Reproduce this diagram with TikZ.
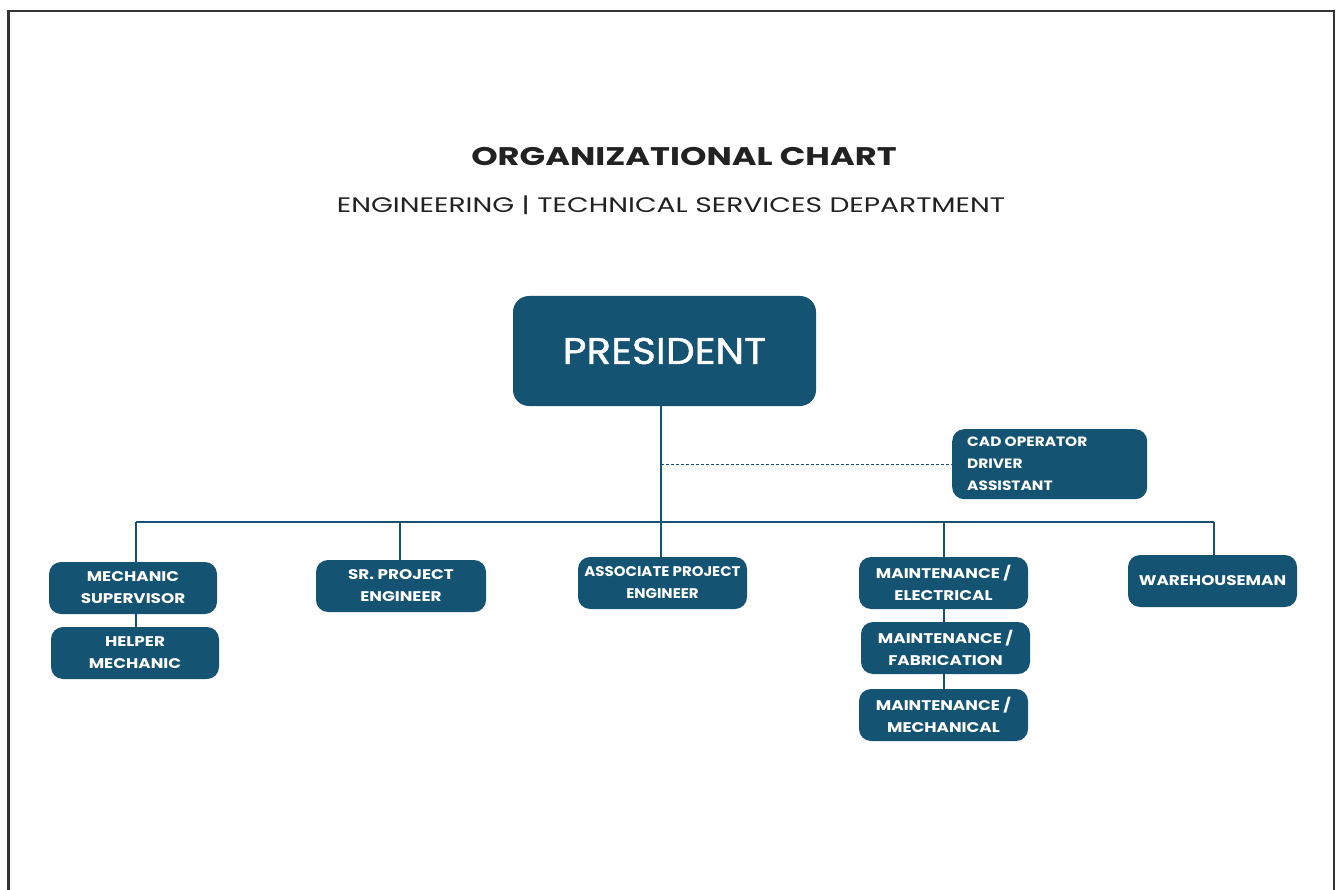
\documentclass[tikz,border=0pt]{standalone}
\usepackage{fontspec}
\setmainfont{Poppins}
\definecolor{navy}{HTML}{155373}
\definecolor{frame}{HTML}{333333}
\definecolor{ttl}{HTML}{222222}
\tikzset{
  box/.style={fill=navy, rounded corners=12pt, inner sep=0pt, text=white, font=\bfseries\fontsize{14}{22}\selectfont\addfontfeature{FakeStretch=1.2}, align=center},
  link/.style={draw=navy, line width=2pt},
  dlink/.style={draw=navy, line width=1pt, dash pattern=on 3pt off 2pt},
}
\begin{document}
\begin{tikzpicture}[x=1pt,y=-1pt]
\useasboundingbox (0,0) rectangle (1338,890);
\begin{scope}
\clip (0,0) rectangle (1338,890);
\draw[frame, line width=2.5pt] (8.5,11) rectangle (1334,910);
\end{scope}
\node[font=\bfseries\fontsize{25.5}{30}\selectfont\addfontfeature{FakeStretch=1.32}, text=ttl] (title) at (684,157) {ORGANIZATIONAL CHART};
\node[font=\fontsize{21}{26}\selectfont\addfontfeature{FakeStretch=1.34}, text=ttl] (sub) at (671,205) {ENGINEERING | TECHNICAL SERVICES DEPARTMENT};
% boxes
\node[box, minimum width=303pt, minimum height=110pt, rounded corners=16pt, font=\fontsize{37}{40}\selectfont\addfontfeature{FakeStretch=1.1,FakeBold=1.2}] (pres) at (664.5,351) {PRESIDENT};
\node[box, minimum width=195pt, minimum height=70pt, anchor=north west] (cad) at (952,429) {};
\node[font=\bfseries\fontsize{13.5}{22}\selectfont\addfontfeature{FakeStretch=1.14}, text=white, align=left, anchor=north west, inner sep=0pt] (cadtxt) at (967,437) {CAD OPERATOR\\DRIVER\\ASSISTANT};
\node[box, minimum width=168pt, minimum height=52pt] (mech) at (133,588) {MECHANIC\\SUPERVISOR};
\node[box, minimum width=168pt, minimum height=52pt] (help) at (135,653) {HELPER\\MECHANIC};
\node[box, minimum width=170pt, minimum height=52pt] (sr) at (401,586) {SR. PROJECT\\ENGINEER};
\node[box, minimum width=169pt, minimum height=52pt, font=\bfseries\fontsize{14}{22}\selectfont\addfontfeature{FakeStretch=1.07}] (assoc) at (662.5,583) {ASSOCIATE PROJECT\\ENGINEER};
\node[box, minimum width=169pt, minimum height=52pt] (melec) at (943.5,583) {MAINTENANCE /\\ELECTRICAL};
\node[box, minimum width=169pt, minimum height=52pt] (mfab) at (945.5,648) {MAINTENANCE /\\FABRICATION};
\node[box, minimum width=169pt, minimum height=52pt] (mmech) at (943.5,715) {MAINTENANCE /\\MECHANICAL};
\node[box, minimum width=169pt, minimum height=52pt] (ware) at (1212.5,581) {WAREHOUSEMAN};
% bus
\coordinate (busL) at (136,522);
\coordinate (busR) at (1214,522);
\coordinate (busM) at (661,522);
\coordinate (dashS) at (661,464);
\draw[link] (pres.south -| busM) -- (busM);
\draw[link] (busL) -- (busR);
\draw[link] (busL) -- (busL |- mech.north);
\draw[link] (400,522) -- (400,0 |- sr.north);
\draw[link] (busM) -- (busM |- assoc.north);
\draw[link] (944,522) -- (944,0 |- melec.north);
\draw[link] (busR) -- (busR |- ware.north);
\draw[link] (136,0 |- mech.south) -- (136,0 |- help.north);
\draw[link] (944,0 |- melec.south) -- (944,0 |- mfab.north);
\draw[link] (944,0 |- mfab.south) -- (944,0 |- mmech.north);
\draw[dlink] (dashS) -- (dashS -| cad.west);
\end{tikzpicture}
\end{document}
